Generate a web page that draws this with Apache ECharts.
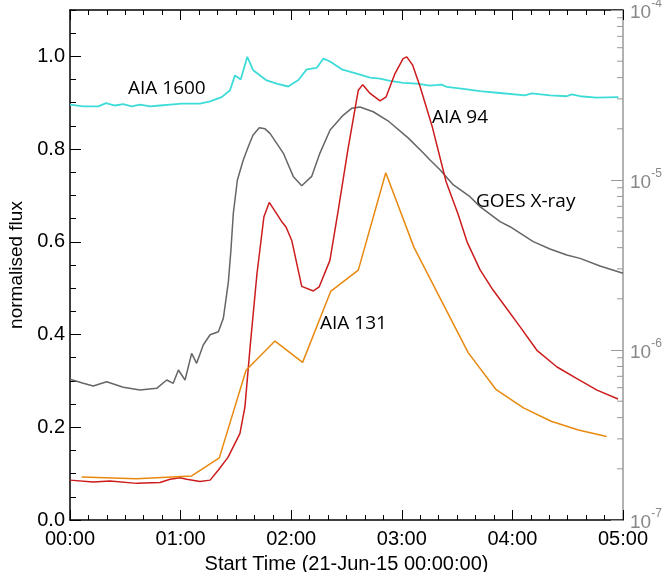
<!DOCTYPE html>
<html>
<head>
<meta charset="utf-8">
<script src="https://cdn.jsdelivr.net/npm/echarts@6/dist/echarts.min.js"></script>
<style>
    html, body { margin: 0; padding: 0; background: #fff; }
    #chart { width: 662px; height: 572px; }
</style>
</head>
<body>
<div id="chart"></div>
<script>
// time in minutes after 21-Jun-15 00:00:00
var aia1600Time = [0, 7.2, 15.4, 19.5, 24.4, 28.9, 33.5, 38, 43.4, 48.8, 54.3, 60.6, 70.5, 76, 82.3, 86.8, 89.5, 92.6, 96.2, 99.4,
    106.7, 112.1, 118.4, 123.9, 128.4, 133.8, 137.4, 141.1, 147.4, 155.5, 162.8, 168.2, 173.6, 180.8, 188.1, 195.3, 201.6, 204.4,
    213.4, 222.4, 233.3, 246.8, 250.5, 260.4, 269.5, 272.2, 276.7, 285.7, 297.5];
var aia1600Flux = [0.896, 0.892, 0.892, 0.899, 0.894, 0.897, 0.892, 0.896, 0.892, 0.894, 0.896, 0.898, 0.898, 0.903, 0.912, 0.927,
    0.959, 0.950, 0.999, 0.970, 0.948, 0.941, 0.935, 0.949, 0.972, 0.975, 0.995, 0.989, 0.972, 0.963, 0.954, 0.952, 0.947, 0.943,
    0.941, 0.937, 0.939, 0.934, 0.930, 0.925, 0.921, 0.916, 0.920, 0.916, 0.914, 0.918, 0.914, 0.911, 0.912];

var goesTime = [0, 7.2, 12.6, 19.9, 28.9, 38, 47, 52.5, 56, 58.8, 62.4, 66, 68.7, 72.3, 76, 80.5, 83.2, 85.9, 87.3, 88.6,
    90.8, 94, 96.7, 99.3, 102.7, 105.8, 108.5, 115.7, 121.1, 125.7, 131.1, 135.6, 141.1, 148.3, 152.8, 157.3, 164.5, 172.5,
    183.4, 191.7, 195.3, 200.7, 208, 217, 222.4, 233.3, 238.7, 251.3, 260.4, 269.5, 276.7, 287.5, 300];
var goesFlux = [6.73e-7, 6.37e-7, 6.14e-7, 6.51e-7, 6.04e-7, 5.82e-7, 5.95e-7, 6.66e-7, 6.37e-7, 7.63e-7, 6.66e-7, 9.56e-7,
    8.35e-7, 1.07e-6, 1.23e-6, 1.28e-6, 1.54e-6, 2.51e-6, 3.87e-6, 6.37e-6, 1.00e-5, 1.31e-5, 1.57e-5, 1.84e-5, 2.03e-5,
    2.00e-5, 1.88e-5, 1.44e-5, 1.05e-5, 9.26e-6, 1.05e-5, 1.44e-5, 1.97e-5, 2.41e-5, 2.64e-5, 2.69e-5, 2.52e-5, 2.23e-5,
    1.77e-5, 1.44e-5, 1.31e-5, 1.15e-5, 9.35e-6, 7.98e-6, 6.97e-6, 5.69e-6, 5.31e-6, 4.34e-6, 3.93e-6, 3.62e-6, 3.46e-6,
    3.12e-6, 2.83e-6];

var aia94Time = [0, 12.5, 21.7, 36.2, 48.8, 54.3, 59.7, 63.3, 70.5, 76, 80.5, 85.7, 92.2, 94.9, 97.7, 101.4, 105.2, 108.1,
    114.8, 117.2, 120.3, 125.7, 132, 135.2, 141, 145.6, 150.8, 156.4, 158.8, 162.8, 168.2, 171.4, 176.3, 180.7, 182.7, 185.9,
    189.9, 196.4, 204, 210.5, 215.4, 222.4, 229.5, 234.9, 244.1, 253.3, 264.2, 275, 285.9, 297.3];
var aia94Flux = [0.086, 0.082, 0.084, 0.079, 0.081, 0.088, 0.091, 0.088, 0.083, 0.086, 0.108, 0.135, 0.187, 0.244, 0.373,
    0.530, 0.654, 0.685, 0.644, 0.632, 0.603, 0.504, 0.494, 0.503, 0.560, 0.670, 0.800, 0.927, 0.939, 0.920, 0.904, 0.912,
    0.963, 0.995, 0.999, 0.981, 0.935, 0.850, 0.730, 0.660, 0.600, 0.540, 0.496, 0.467, 0.417, 0.366, 0.330, 0.305, 0.280, 0.261];

var aia131Time = [6.3, 36, 66, 81, 95.5, 111.2, 126.2, 141.4, 156.4, 171.3, 186.6, 216, 231, 246, 261, 275.8, 291.1];
var aia131Flux = [0.093, 0.089, 0.095, 0.134, 0.323, 0.386, 0.340, 0.493, 0.539, 0.749, 0.588, 0.361, 0.282, 0.242, 0.213,
    0.194, 0.180];

// minor ticks of the log axis
var logMinorTicks = [2e-7, 3e-7, 4e-7, 5e-7, 6e-7, 7e-7, 8e-7, 9e-7, 2e-6, 3e-6, 4e-6, 5e-6, 6e-6, 7e-6, 8e-6, 9e-6,
    2e-5, 3e-5, 4e-5, 5e-5, 6e-5, 7e-5, 8e-5, 9e-5];

function zip(t, v) {
    var out = [];
    for (var i = 0; i < t.length; i++) {
        out.push([t[i], v[i]]);
    }
    return out;
}

function pad(n) {
    return (n < 10 ? '0' : '') + n;
}

var axisFont = 'Liberation Sans, Arial, sans-serif';
var noteFont = 'Open Sans, sans-serif';

var chart = echarts.init(document.getElementById('chart'));

var option = {
    animation: false,
    backgroundColor: '#fff',
    grid: { left: 70, right: 39, top: 10, bottom: 52, outerBoundsMode: 'none', containLabel: false },
    xAxis: [{
        type: 'value',
        min: 0,
        max: 300,
        interval: 60,
        name: 'Start Time (21-Jun-15 00:00:00)',
        nameLocation: 'middle',
        nameGap: 34,
        nameTextStyle: { fontFamily: axisFont, fontSize: 20, color: '#000' },
        axisLine: { show: true, lineStyle: { color: '#000', width: 1.5 } },
        axisTick: { show: true, inside: true, length: 10, lineStyle: { color: '#000' } },
        minorTick: { show: true, splitNumber: 6, length: 5, lineStyle: { color: '#000' } },
        splitLine: { show: false },
        axisLabel: {
            fontFamily: axisFont, fontSize: 20, color: '#000', margin: 9,
            formatter: function (v) {
                return pad(Math.floor(v / 60)) + ':' + pad(v % 60);
            }
        }
    }, {
        // top frame with the same ticks
        type: 'value',
        position: 'top',
        min: 0,
        max: 300,
        interval: 60,
        axisLine: { show: true, onZero: false, lineStyle: { color: '#000', width: 1.5 } },
        axisTick: { show: true, inside: true, length: 10, lineStyle: { color: '#000' } },
        minorTick: { show: true, splitNumber: 6, length: 5, lineStyle: { color: '#000' } },
        splitLine: { show: false },
        axisLabel: { show: false }
    }],
    yAxis: [{
        type: 'value',
        min: 0,
        max: 1.1,
        interval: 0.2,
        name: 'normalised flux',
        nameLocation: 'middle',
        nameGap: 44,
        nameTextStyle: { fontFamily: axisFont, fontSize: 19, color: '#000' },
        axisLine: { show: true, lineStyle: { color: '#000', width: 1.5 } },
        axisTick: { show: true, inside: true, length: 11, lineStyle: { color: '#000' } },
        splitLine: { show: false },
        axisLabel: {
            fontFamily: axisFont, fontSize: 20, color: '#000', margin: 5, showMaxLabel: false,
            formatter: function (v) { return v.toFixed(1); }
        }
    }, {
        // overlay for the small ticks every 0.05
        type: 'value',
        position: 'left',
        min: 0,
        max: 1.1,
        interval: 0.05,
        axisLine: { show: false },
        axisTick: { show: true, inside: true, length: 6, lineStyle: { color: '#000' } },
        splitLine: { show: false },
        axisLabel: { show: false }
    }, {
        type: 'log',
        logBase: 10,
        position: 'right',
        min: 1e-7,
        max: 1e-4,
        axisLine: { show: true, lineStyle: { color: '#999', width: 1.5 } },
        axisTick: { show: true, inside: true, length: 12, lineStyle: { color: '#999' } },
        splitLine: { show: false },
        axisLabel: {
            margin: 7,
            formatter: function (v) {
                return '{b|10}{s|' + Math.round(Math.log10(v)) + '}';
            },
            rich: {
                b: { fontFamily: axisFont, fontSize: 19, color: '#888', padding: [6, 0, 0, 0] },
                s: { fontFamily: axisFont, fontSize: 12, color: '#888', verticalAlign: 'top', padding: [0, 0, 8, 0] }
            }
        }
    }],
    graphic: [
        { type: 'text', x: 128, y: 89, style: { text: 'AIA 1600', font: '19px ' + noteFont, fill: '#000', verticalAlign: 'middle' } },
        { type: 'text', x: 432, y: 118, style: { text: 'AIA 94', font: '19px ' + noteFont, fill: '#000', verticalAlign: 'middle' } },
        { type: 'text', x: 476, y: 202, style: { text: 'GOES X-ray', font: '19px ' + noteFont, fill: '#000', verticalAlign: 'middle' } },
        { type: 'text', x: 320, y: 324, style: { text: 'AIA 131', font: '19px ' + noteFont, fill: '#000', verticalAlign: 'middle' } }
    ],
    series: [{
        name: 'AIA 1600',
        type: 'line',
        showSymbol: false,
        data: zip(aia1600Time, aia1600Flux),
        lineStyle: { color: '#3EDCD8', width: 1.8 }
    }, {
        name: 'GOES X-ray',
        type: 'line',
        yAxisIndex: 2,
        showSymbol: false,
        data: zip(goesTime, goesFlux),
        lineStyle: { color: '#666', width: 1.5 }
    }, {
        name: 'AIA 94',
        type: 'line',
        showSymbol: false,
        data: zip(aia94Time, aia94Flux),
        lineStyle: { color: '#CC1C1C', width: 1.5 }
    }, {
        name: 'AIA 131',
        type: 'line',
        showSymbol: false,
        data: zip(aia131Time, aia131Flux),
        lineStyle: { color: '#E8890F', width: 1.5 }
    }, {
        // log axis minor ticks on the right side
        type: 'custom',
        yAxisIndex: 2,
        silent: true,
        data: logMinorTicks.map(function (v) { return [300, v]; }),
        renderItem: function (params, api) {
            var p = api.coord([api.value(0), api.value(1)]);
            return {
                type: 'line',
                shape: { x1: p[0] - 6, y1: p[1], x2: p[0], y2: p[1] },
                style: { stroke: '#999', lineWidth: 1 }
            };
        }
    }]
};

chart.setOption(option);
</script>
</body>
</html>
